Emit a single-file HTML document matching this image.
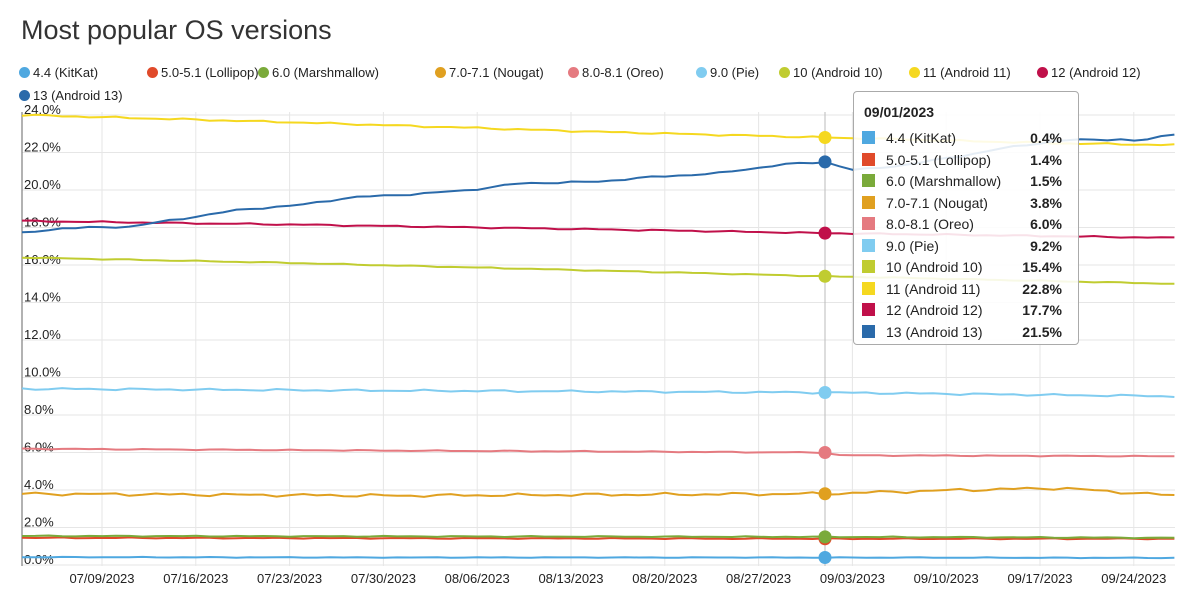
<!DOCTYPE html>
<html><head><meta charset="utf-8"><style>
body{margin:0;width:1200px;height:601px;background:#fff;font-family:"Liberation Sans",Arial,sans-serif;overflow:hidden;position:relative}
.t{position:absolute;left:21px;top:15px;font-size:27px;color:#333}
.lg{position:absolute;font-size:13px;color:#222;white-space:nowrap}
.lg i{display:inline-block;width:11px;height:11px;border-radius:50%;vertical-align:-1px;margin-right:3px}
.tt{position:absolute;left:853px;top:91px;width:224px;height:252px;background:rgba(255,255,255,0.88);border:1px solid #aaa;border-radius:4px;font-size:14px;color:#222}
.tt .h{position:absolute;left:10px;top:12px;font-weight:bold;font-size:14px}
.tt .r{position:absolute;left:8px;width:200px;height:20px}
.tt .r b{position:absolute;right:0;top:1px}
.tt .r span{position:absolute;left:24px;top:1px}
.tt .r i{position:absolute;left:0;top:2px;width:13px;height:13px}
</style></head><body>
<div class="t">Most popular OS versions</div>
<div class="lg" style="left:19px;top:65px"><i style="background:#4fa8e0"></i>4.4 (KitKat)</div>
<div class="lg" style="left:147px;top:65px"><i style="background:#e04a2a"></i>5.0-5.1 (Lollipop)</div>
<div class="lg" style="left:258px;top:65px"><i style="background:#7aaa3a"></i>6.0 (Marshmallow)</div>
<div class="lg" style="left:435px;top:65px"><i style="background:#e0a020"></i>7.0-7.1 (Nougat)</div>
<div class="lg" style="left:568px;top:65px"><i style="background:#e57a80"></i>8.0-8.1 (Oreo)</div>
<div class="lg" style="left:696px;top:65px"><i style="background:#80ccf0"></i>9.0 (Pie)</div>
<div class="lg" style="left:779px;top:65px"><i style="background:#c0cc30"></i>10 (Android 10)</div>
<div class="lg" style="left:909px;top:65px"><i style="background:#f5d820"></i>11 (Android 11)</div>
<div class="lg" style="left:1037px;top:65px"><i style="background:#c0104a"></i>12 (Android 12)</div>
<div class="lg" style="left:19px;top:88px"><i style="background:#2a6aaa"></i>13 (Android 13)</div>
<svg id="s" width="1200" height="601" style="position:absolute;left:0;top:0"></svg>
<div class="tt"><div class="h">09/01/2023</div></div>
<script>
var s=document.getElementById('s'),h='';
for(var i=0;i<=12;i++){var y=115+i*37.5;h+='<line x1="22" x2="1175" y1="'+y+'" y2="'+y+'" stroke="#e6e6e6"/>';
h+='<text x="24" y="'+(y-1)+'" font-size="13" fill="#222" font-family="Liberation Sans">'+(24-2*i).toFixed(1)+'%</text>';}
var d=['07/09','07/16','07/23','07/30','08/06','08/13','08/20','08/27','09/03','09/10','09/17','09/24'];
for(var i=0;i<12;i++){var x=102+i*93.8;h+='<line x1="'+x+'" x2="'+x+'" y1="112" y2="566" stroke="#e6e6e6"/>';
h+='<text x="'+x+'" y="583" text-anchor="middle" font-size="13" fill="#222" font-family="Liberation Sans">'+d[i]+'/2023</text>';}
h+='<line x1="22" x2="22" y1="112" y2="566" stroke="#666"/><line x1="825" x2="825" y1="112" y2="566" stroke="#bbb"/>';
function Y(v){return 565-v*18.75}
var ser=[
['#4fa8e0',[[22,.42],[400,.4],[825,.4],[1175,.38]],.3,.02],
['#e04a2a',[[22,1.45],[825,1.4],[1175,1.4]],.5,.03],
['#7aaa3a',[[22,1.55],[825,1.5],[1175,1.45]],.7,.03],
['#e0a020',[[22,3.8],[400,3.7],[825,3.8],[960,4.0],[1060,4.1],[1175,3.7]],.9,.09],
['#e57a80',[[22,6.2],[400,6.1],[825,6.0],[840,5.85],[1175,5.8]],1.1,.03],
['#80ccf0',[[22,9.4],[400,9.3],[825,9.2],[1000,9.1],[1175,9.0]],1.3,.06],
['#c0cc30',[[22,16.4],[300,16.1],[600,15.7],[825,15.4],[1175,15.0]],1.5,.03],
['#f5d820',[[22,24.0],[300,23.6],[600,23.1],[825,22.8],[1050,22.5],[1175,22.4]],1.7,.05],
['#c0104a',[[22,18.35],[300,18.15],[600,17.9],[825,17.7],[1175,17.45]],1.9,.04],
['#2a6aaa',[[22,17.7],[60,17.95],[130,18.05],[180,18.45],[240,18.95],[300,19.2],[350,19.6],[420,19.8],[470,20.0],[520,20.35],[600,20.45],[640,20.65],[720,20.9],[780,21.35],[825,21.5],[855,21.05],[900,21.3],[960,21.8],[1000,22.2],[1060,22.65],[1120,22.7],[1140,22.6],[1175,23.0]],2.1,.05]];
ser.forEach(function(a){var p=a[1],pts=[];for(var x=22;x<=1175;x+=13.4){var k=0;while(k<p.length-2&&x>p[k+1][0])k++;var t=(x-p[k][0])/(p[k+1][0]-p[k][0]);t=Math.max(0,Math.min(1,t));
var v=p[k][1]+(p[k+1][1]-p[k][1])*t+a[3]*Math.sin(x*0.13+a[2]*7)*Math.cos(x*0.041+a[2]);pts.push(x.toFixed(1)+','+Y(v).toFixed(1));}
h+='<polyline fill="none" stroke="'+a[0]+'" stroke-width="2" points="'+pts.join(' ')+'"/>';});
var dv=[0.4,1.4,1.5,3.8,6.0,9.2,15.4,22.8,17.7,21.5];
ser.forEach(function(a,i){h+='<circle cx="825" cy="'+Y(dv[i])+'" r="6.5" fill="'+a[0]+'"/>';});
s.innerHTML=h;
var tt=document.querySelector('.tt'),nm=['4.4 (KitKat)','5.0-5.1 (Lollipop)','6.0 (Marshmallow)','7.0-7.1 (Nougat)','8.0-8.1 (Oreo)','9.0 (Pie)','10 (Android 10)','11 (Android 11)','12 (Android 12)','13 (Android 13)'];
nm.forEach(function(n,i){var r=document.createElement('div');r.className='r';r.style.top=(37+i*21.5)+'px';
r.innerHTML='<i style="background:'+ser[i][0]+'"></i><span>'+n+'</span><b>'+dv[i].toFixed(1)+'%</b>';tt.appendChild(r);});
</script>
</body></html>
